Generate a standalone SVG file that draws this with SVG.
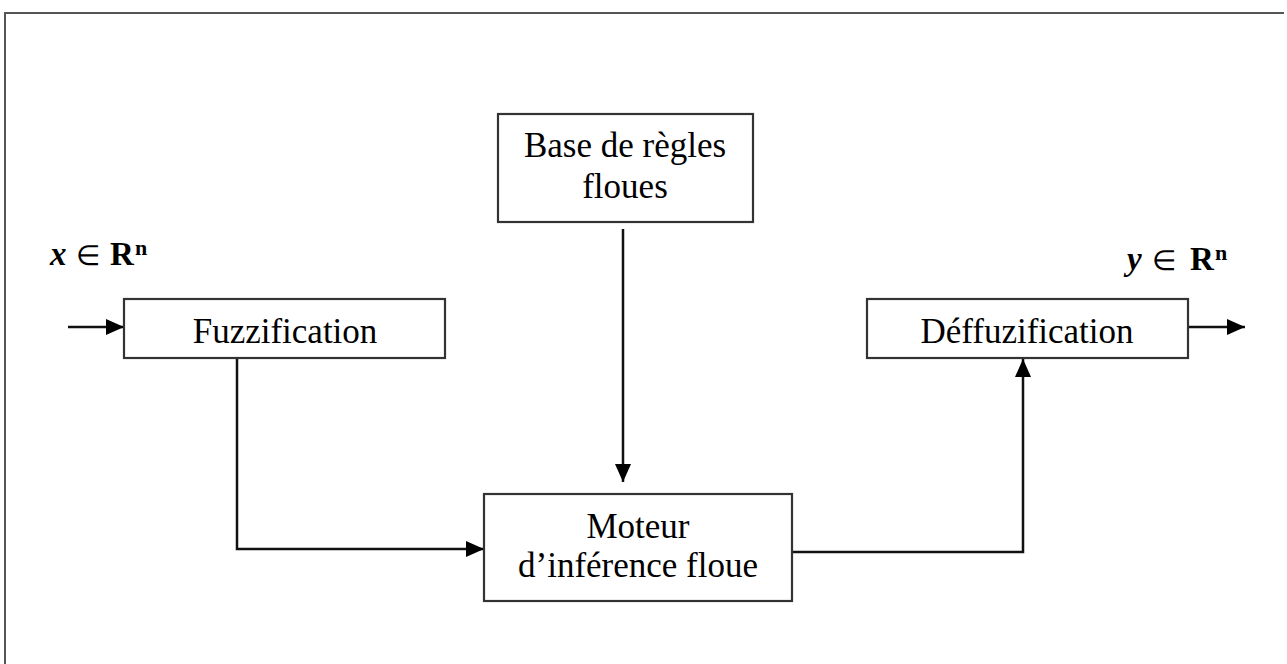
<svg xmlns="http://www.w3.org/2000/svg" width="1287" height="664" viewBox="0 0 1287 664">
  <defs>
    <marker id="arrow" viewBox="0 0 18 16" refX="18" refY="8" markerWidth="18" markerHeight="16" markerUnits="userSpaceOnUse" orient="auto">
      <path d="M0 0 L18 8 L0 16 Z" fill="#000"/>
    </marker>
    <linearGradient id="edgeFade" x1="0" y1="0" x2="0" y2="1">
      <stop offset="0" stop-color="#555"/>
      <stop offset="0.75" stop-color="#222"/>
      <stop offset="1" stop-color="#ccc" stop-opacity="0.2"/>
    </linearGradient>
    <style>
      .box { fill: #fff; stroke: #333; stroke-width: 2.2; }
      .lbl { font-family: "Liberation Serif", "Times New Roman", serif; font-size: 35px; fill: #000; text-anchor: middle; }
      .math { font-family: "Liberation Serif", "Times New Roman", serif; font-size: 33px; fill: #000; }
      .wire { fill: none; stroke: #111; stroke-width: 2.5; }
      .frame { fill: none; stroke: #555; stroke-width: 2; }
    </style>
  </defs>

  <rect width="1287" height="664" fill="#fff"/>

  <!-- page frame -->
  <g id="frame">
    <line class="frame" x1="5" y1="13" x2="1284" y2="13"/>
    <line class="frame" x1="5" y1="12" x2="5" y2="664"/>
    <line x1="1284" y1="12" x2="1284" y2="435" stroke="url(#edgeFade)" stroke-width="2"/>
  </g>

  <!-- connectors -->
  <g id="connectors">
    <line class="wire" x1="68" y1="327" x2="124" y2="327" marker-end="url(#arrow)"/>
    <line class="wire" x1="1189" y1="327" x2="1245" y2="327" marker-end="url(#arrow)"/>
    <line class="wire" x1="623" y1="229" x2="623" y2="482" marker-end="url(#arrow)"/>
    <path class="wire" d="M237 358 V549 H484" stroke="#333" marker-end="url(#arrow)"/>
    <path class="wire" d="M792 552 H1023 V359" marker-end="url(#arrow)"/>
  </g>

  <!-- input / output sets -->
  <g id="input-label">
    <text class="math" y="265"><tspan x="50" font-weight="bold" font-style="italic">x</tspan><tspan x="76" font-size="28">∈</tspan><tspan x="110" font-weight="bold">R</tspan><tspan x="135" dy="-10" font-size="22" font-weight="bold">n</tspan></text>
  </g>
  <g id="output-label">
    <text class="math" y="270"><tspan x="1127" font-weight="bold" font-style="italic">y</tspan><tspan x="1152" font-size="28">∈</tspan><tspan x="1190" font-weight="bold">R</tspan><tspan x="1215" dy="-10" font-size="22" font-weight="bold">n</tspan></text>
  </g>

  <g id="rule-base">
    <rect class="box" x="498" y="114" width="255" height="108"/>
    <text class="lbl" x="625" y="157">Base de règles</text>
    <text class="lbl" x="625" y="198">floues</text>
  </g>

  <g id="fuzzification">
    <rect class="box" x="124" y="299" width="321" height="59"/>
    <text class="lbl" x="285" y="343">Fuzzification</text>
  </g>

  <g id="defuzzification">
    <rect class="box" x="867" y="299" width="321" height="59"/>
    <text class="lbl" x="1027" y="343">Déffuzification</text>
  </g>

  <g id="inference-engine">
    <rect class="box" x="484" y="494" width="308" height="107"/>
    <text class="lbl" x="638" y="538">Moteur</text>
    <text class="lbl" x="638" y="577">d’inférence floue</text>
  </g>
</svg>
